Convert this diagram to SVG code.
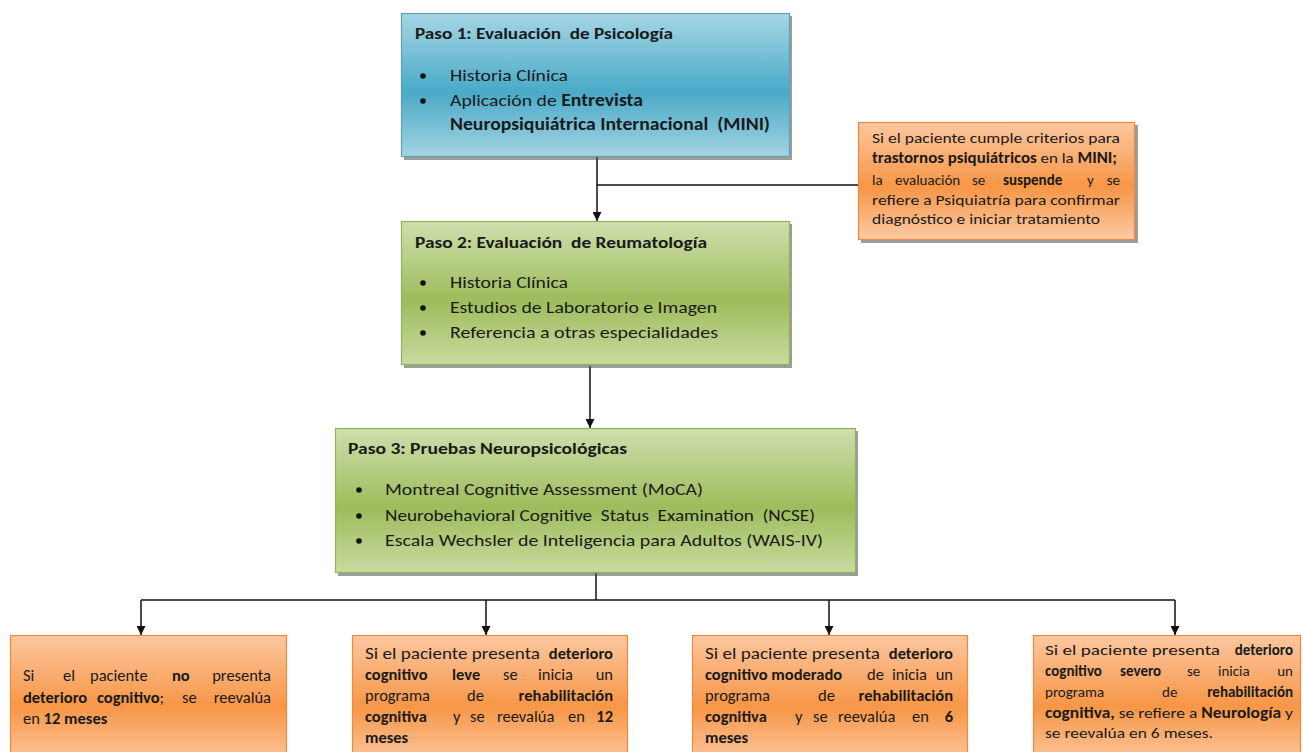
<svg xmlns="http://www.w3.org/2000/svg" width="1303" height="752" viewBox="0 0 1303 752">
  <defs>
    <linearGradient id="gBlue" x1="0" y1="0" x2="0" y2="1">
      <stop offset="0" stop-color="#a6d6e5"/>
      <stop offset="0.55" stop-color="#4aaac7"/>
      <stop offset="1" stop-color="#a3d3e2"/>
    </linearGradient>
    <linearGradient id="gGreen" x1="0" y1="0" x2="0" y2="1">
      <stop offset="0" stop-color="#cfdfae"/>
      <stop offset="0.55" stop-color="#9dbc5b"/>
      <stop offset="1" stop-color="#c8dba0"/>
    </linearGradient>
    <linearGradient id="gOrange" x1="0" y1="0" x2="0" y2="1">
      <stop offset="0" stop-color="#fcc7a0"/>
      <stop offset="0.55" stop-color="#f79646"/>
      <stop offset="1" stop-color="#fccaa5"/>
    </linearGradient>
    <marker id="arrow" viewBox="0 0 10 10" refX="10" refY="5" markerWidth="9" markerHeight="9" markerUnits="userSpaceOnUse" orient="auto">
      <path d="M0,0 L10,5 L0,10 Z" fill="#111"/>
    </marker>
    <style>
      text { font-family: Carlito, Lato, "Liberation Sans", sans-serif; fill: #1a1a1a; white-space: pre; }
      .title { font-size: 16.5px; font-weight: bold; }
      .item { font-size: 17px; }
      .note { font-size: 16.5px; }
      .small { font-size: 15px; }
      .b { font-weight: bold; }
      .end { text-anchor: end; }
      .shadow { fill: #4a4a4a; opacity: 0.55; }
      .blue { fill: url(#gBlue); stroke: #5d9fb6; stroke-width: 1.2; }
      .green { fill: url(#gGreen); stroke: #93b255; stroke-width: 1.2; }
      .orange { fill: url(#gOrange); stroke: #f08a3a; stroke-width: 1.2; }
      .wire { fill: none; stroke: #111; stroke-width: 1.5; }
      .dot { fill: #111; }
    </style>
  </defs>

  <!-- connectors -->
  <g id="connectors">
    <line class="wire" x1="597" y1="157" x2="597" y2="221" marker-end="url(#arrow)"/>
    <line class="wire" x1="597" y1="185" x2="858" y2="185"/>
    <line class="wire" x1="590" y1="366" x2="590" y2="428" marker-end="url(#arrow)"/>
    <line class="wire" x1="596" y1="573" x2="596" y2="600"/>
    <line class="wire" x1="141" y1="600" x2="1175" y2="600"/>
    <line class="wire" x1="141" y1="600" x2="141" y2="635" marker-end="url(#arrow)"/>
    <line class="wire" x1="486" y1="600" x2="486" y2="635" marker-end="url(#arrow)"/>
    <line class="wire" x1="829" y1="600" x2="829" y2="635" marker-end="url(#arrow)"/>
    <line class="wire" x1="1175" y1="600" x2="1175" y2="635" marker-end="url(#arrow)"/>
  </g>

  <!-- Paso 1 -->
  <g id="paso1">
    <rect class="shadow" x="404" y="16" width="388" height="144"/>
    <rect class="blue" x="401.5" y="13.5" width="388" height="143"/>
    <text class="title" x="415" y="39" textLength="258" lengthAdjust="spacingAndGlyphs">Paso 1: Evaluación  de Psicología</text>
    <circle class="dot" cx="423" cy="76" r="2.8"/>
    <text class="item" x="450" y="81" textLength="118" lengthAdjust="spacingAndGlyphs">Historia Clínica</text>
    <circle class="dot" cx="423" cy="101" r="2.8"/>
    <text class="item" x="450" y="106" textLength="193" lengthAdjust="spacingAndGlyphs">Aplicación de <tspan class="b">Entrevista</tspan></text>
    <text class="item b" x="450" y="130" textLength="320" lengthAdjust="spacingAndGlyphs">Neuropsiquiátrica Internacional  (MINI)</text>
  </g>

  <!-- MINI referral note -->
  <g id="nota-mini">
    <rect class="shadow" x="861" y="125" width="277" height="118"/>
    <rect class="orange" x="858.5" y="122.5" width="276" height="117"/>
    <text class="small" x="872" y="143" textLength="248" lengthAdjust="spacingAndGlyphs">Si el paciente cumple criterios para</text>
    <text class="small" x="872" y="163" textLength="245" lengthAdjust="spacingAndGlyphs"><tspan class="b">trastornos psiquiátricos</tspan> en la <tspan class="b">MINI;</tspan></text>
    <text class="small" x="872" y="185">la</text>
    <text class="small" x="895" y="185">evaluación</text>
    <text class="small" x="972" y="185">se</text>
    <text class="small b" x="1003" y="185">suspende</text>
    <text class="small" x="1087" y="185">y</text>
    <text class="small end" x="1120" y="185">se</text>
    <text class="small" x="872" y="205" textLength="248" lengthAdjust="spacingAndGlyphs">refiere a Psiquiatría para confirmar</text>
    <text class="small" x="872" y="224" textLength="228" lengthAdjust="spacingAndGlyphs">diagnóstico e iniciar tratamiento</text>
  </g>

  <!-- Paso 2 -->
  <g id="paso2">
    <rect class="shadow" x="404" y="224" width="388" height="144"/>
    <rect class="green" x="401.5" y="221.5" width="388" height="143"/>
    <text class="title" x="415" y="248" textLength="292" lengthAdjust="spacingAndGlyphs">Paso 2: Evaluación  de Reumatología</text>
    <circle class="dot" cx="423" cy="283" r="2.8"/>
    <text class="item" x="450" y="288" textLength="118" lengthAdjust="spacingAndGlyphs">Historia Clínica</text>
    <circle class="dot" cx="423" cy="308" r="2.8"/>
    <text class="item" x="450" y="313" textLength="267" lengthAdjust="spacingAndGlyphs">Estudios de Laboratorio e Imagen</text>
    <circle class="dot" cx="423" cy="333" r="2.8"/>
    <text class="item" x="450" y="338" textLength="268" lengthAdjust="spacingAndGlyphs">Referencia a otras especialidades</text>
  </g>

  <!-- Paso 3 -->
  <g id="paso3">
    <rect class="shadow" x="338" y="431" width="520" height="145"/>
    <rect class="green" x="335.5" y="428.5" width="520" height="144"/>
    <text class="title" x="348" y="454" textLength="279" lengthAdjust="spacingAndGlyphs">Paso 3: Pruebas Neuropsicológicas</text>
    <circle class="dot" cx="359" cy="490" r="2.8"/>
    <text class="item" x="385" y="495" textLength="318" lengthAdjust="spacingAndGlyphs">Montreal Cognitive Assessment (MoCA)</text>
    <circle class="dot" cx="359" cy="516" r="2.8"/>
    <text class="item" x="385" y="521" textLength="430" lengthAdjust="spacingAndGlyphs">Neurobehavioral Cognitive  Status  Examination  (NCSE)</text>
    <circle class="dot" cx="359" cy="541" r="2.8"/>
    <text class="item" x="385" y="546" textLength="438" lengthAdjust="spacingAndGlyphs">Escala Wechsler de Inteligencia para Adultos (WAIS-IV)</text>
  </g>

  <!-- Outcome: no impairment -->
  <g id="sin-deterioro">
    <rect class="orange" x="10.5" y="635.5" width="276" height="130"/>
    <text class="note" x="23" y="681">Si</text>
    <text class="note" x="63" y="681">el</text>
    <text class="note" x="90" y="681">paciente</text>
    <text class="note b" x="172" y="681">no</text>
    <text class="note end" x="271" y="681">presenta</text>
    <text class="note b" x="23" y="703">deterioro</text>
    <text class="note" x="97" y="703"><tspan class="b">cognitivo</tspan>;</text>
    <text class="note" x="182" y="703">se</text>
    <text class="note end" x="271" y="703">reevalúa</text>
    <text class="note" x="23" y="724">en <tspan class="b">12 meses</tspan></text>
  </g>

  <!-- Outcome: mild impairment -->
  <g id="deterioro-leve">
    <rect class="orange" x="352.5" y="635.5" width="275" height="130"/>
    <text class="note" x="365" y="659" textLength="175" lengthAdjust="spacingAndGlyphs">Si el paciente presenta</text>
    <text class="note b end" x="613" y="659">deterioro</text>
    <text class="note b" x="365" y="680">cognitivo</text>
    <text class="note b" x="452" y="680">leve</text>
    <text class="note" x="503" y="680">se</text>
    <text class="note" x="538" y="680">inicia</text>
    <text class="note end" x="613" y="680">un</text>
    <text class="note" x="365" y="701">programa</text>
    <text class="note" x="467" y="701">de</text>
    <text class="note b end" x="613" y="701">rehabilitación</text>
    <text class="note b" x="365" y="722">cognitiva</text>
    <text class="note" x="453" y="722">y</text>
    <text class="note" x="470" y="722">se</text>
    <text class="note" x="497" y="722">reevalúa</text>
    <text class="note" x="568" y="722">en</text>
    <text class="note b end" x="613" y="722">12</text>
    <text class="note b" x="365" y="743">meses</text>
  </g>

  <!-- Outcome: moderate impairment -->
  <g id="deterioro-moderado">
    <rect class="orange" x="692.5" y="635.5" width="275" height="130"/>
    <text class="note" x="705" y="659" textLength="175" lengthAdjust="spacingAndGlyphs">Si el paciente presenta</text>
    <text class="note b end" x="953" y="659">deterioro</text>
    <text class="note b" x="705" y="680">cognitivo moderado</text>
    <text class="note" x="867" y="680">de</text>
    <text class="note" x="892" y="680">inicia</text>
    <text class="note end" x="953" y="680">un</text>
    <text class="note" x="705" y="701">programa</text>
    <text class="note" x="818" y="701">de</text>
    <text class="note b end" x="953" y="701">rehabilitación</text>
    <text class="note b" x="705" y="722">cognitiva</text>
    <text class="note" x="795" y="722">y</text>
    <text class="note" x="813" y="722">se</text>
    <text class="note" x="838" y="722">reevalúa</text>
    <text class="note" x="912" y="722">en</text>
    <text class="note b end" x="953" y="722">6</text>
    <text class="note b" x="705" y="743">meses</text>
  </g>

  <!-- Outcome: severe impairment -->
  <g id="deterioro-severo">
    <rect class="orange" x="1033.5" y="635.5" width="267" height="130"/>
    <text class="small" x="1045" y="655" textLength="175" lengthAdjust="spacingAndGlyphs">Si el paciente presenta</text>
    <text class="small b end" x="1293" y="655">deterioro</text>
    <text class="small b" x="1045" y="676">cognitivo</text>
    <text class="small b" x="1120" y="676">severo</text>
    <text class="small" x="1187" y="676">se</text>
    <text class="small" x="1218" y="676">inicia</text>
    <text class="small end" x="1293" y="676">un</text>
    <text class="small" x="1045" y="697">programa</text>
    <text class="small" x="1162" y="697">de</text>
    <text class="small b end" x="1293" y="697">rehabilitación</text>
    <text class="small" x="1045" y="718" textLength="248" lengthAdjust="spacingAndGlyphs"><tspan class="b">cognitiva,</tspan> se refiere a <tspan class="b">Neurología</tspan> y</text>
    <text class="small" x="1045" y="738" textLength="168" lengthAdjust="spacingAndGlyphs">se reevalúa en 6 meses.</text>
  </g>
</svg>
